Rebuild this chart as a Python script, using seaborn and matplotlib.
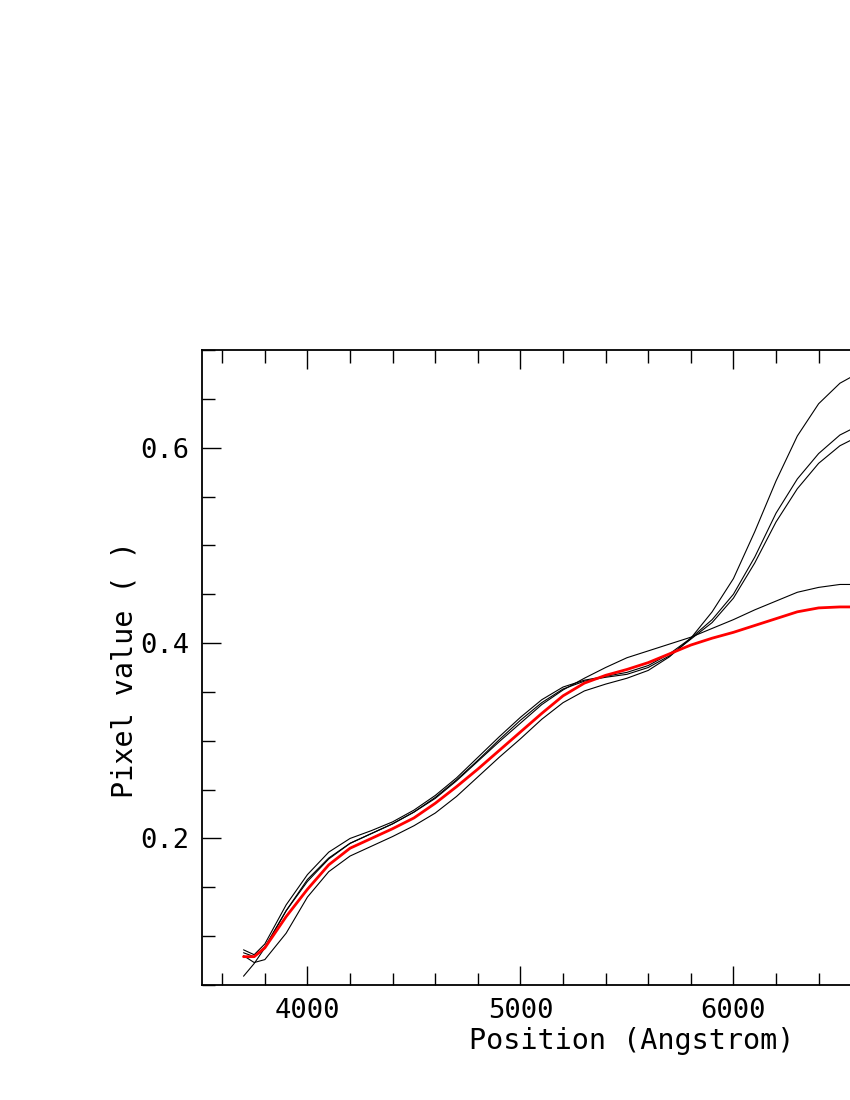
#!/usr/bin/env python3
"""
Curvas de ajuste: Pixel value vs Position (Angstrom)
"""
import pandas as pd
import matplotlib
matplotlib.use("Agg")
import matplotlib.pyplot as plt
from matplotlib.ticker import MultipleLocator
import seaborn as sns

# eje x comun (Angstrom)
wave = [3700, 3750, 3800, 3900, 4000, 4100, 4200, 4300, 4400, 4500, 4600,
        4700, 4800, 4900, 5000, 5100, 5200, 5300, 5400, 5500, 5600, 5700,
        5800, 5900, 6000, 6100, 6200, 6300, 6400, 6500, 6600]

# curvas negras (ajustes individuales)
fit_a = [0.080, 0.073, 0.076, 0.103, 0.140, 0.166, 0.182, 0.192, 0.202, 0.213, 0.226,
         0.243, 0.263, 0.283, 0.302, 0.322, 0.339, 0.351, 0.358, 0.364, 0.372, 0.386,
         0.405, 0.432, 0.466, 0.514, 0.566, 0.612, 0.645, 0.666, 0.678]
fit_b = [0.086, 0.081, 0.092, 0.132, 0.163, 0.186, 0.200, 0.208, 0.217, 0.229, 0.244,
         0.262, 0.283, 0.304, 0.324, 0.342, 0.355, 0.362, 0.366, 0.370, 0.377, 0.389,
         0.405, 0.424, 0.450, 0.488, 0.533, 0.568, 0.594, 0.613, 0.624]
fit_c = [0.083, 0.079, 0.089, 0.126, 0.156, 0.179, 0.195, 0.205, 0.215, 0.227, 0.242,
         0.260, 0.280, 0.301, 0.321, 0.339, 0.353, 0.361, 0.365, 0.368, 0.375, 0.387,
         0.404, 0.421, 0.446, 0.482, 0.524, 0.558, 0.584, 0.602, 0.613]
fit_d = [0.059, 0.072, 0.088, 0.126, 0.158, 0.180, 0.195, 0.205, 0.215, 0.227, 0.241,
         0.259, 0.279, 0.299, 0.318, 0.337, 0.352, 0.364, 0.375, 0.385, 0.392, 0.399,
         0.406, 0.415, 0.424, 0.434, 0.443, 0.452, 0.457, 0.460, 0.460]

# curva roja (media)
mean_fit = [0.079, 0.079, 0.088, 0.120, 0.148, 0.173, 0.190, 0.200, 0.210, 0.221, 0.236,
            0.253, 0.271, 0.290, 0.309, 0.328, 0.346, 0.359, 0.367, 0.373, 0.380, 0.389,
            0.398, 0.405, 0.411, 0.418, 0.425, 0.432, 0.436, 0.437, 0.437]

x_ticks = [4000, 5000, 6000]
y_ticks = [0.2, 0.4, 0.6]

sns.set_style("ticks")
plt.rcParams['font.family'] = ['DejaVu Sans Mono', 'DejaVu Sans']
plt.rcParams['text.color'] = 'black'
plt.rcParams['xtick.color'] = 'black'
plt.rcParams['ytick.color'] = 'black'
plt.rcParams['xtick.labelcolor'] = 'black'
plt.rcParams['ytick.labelcolor'] = 'black'

fig = plt.figure(figsize=(8.5, 11), dpi=100)
px = 0.213  # pixeles por Angstrom
x0, x1 = 3505, 7500
ax = fig.add_axes([202 / 850, 115 / 1100, (x1 - x0) * px / 850, 635 / 1100])

for serie in [fit_a, fit_b, fit_c, fit_d]:
    sns.lineplot(x=wave, y=serie, ax=ax, color='black', linewidth=0.8,
                 sort=False, estimator=None)
sns.lineplot(x=wave, y=mean_fit, ax=ax, color='red', linewidth=2.0,
             sort=False, estimator=None)

ax.set_xlim(x0, x1)
ax.set_ylim(0.05, 0.70)
ax.set_xticks(x_ticks)
ax.set_xticklabels([str(t) for t in x_ticks])
ax.set_yticks(y_ticks)
ax.set_yticklabels([f"{t:.1f}" for t in y_ticks])
ax.xaxis.set_minor_locator(MultipleLocator(200))
ax.yaxis.set_minor_locator(MultipleLocator(0.05))
ax.tick_params(which='both', direction='in', top=True, right=True, color='black', width=1.0)
ax.tick_params(which='major', length=14, labelsize=19.5, pad=9)
ax.tick_params(which='minor', length=9)
ax.tick_params(axis='y', pad=9)
for s in ax.spines.values():
    s.set_linewidth(1.3)
    s.set_color('black')
ax.set_xlabel('')
ax.set_ylabel('')

fig.text(632 / 850, 1 - 1041 / 1100, 'Position (Angstrom)', ha='center', va='center',
         fontsize=20.5, color='black')
fig.text(125 / 850, 1 - 670 / 1100, 'Pixel value ( )', ha='center', va='center',
         rotation=90, fontsize=20.5, color='black')

plt.savefig('out.png', dpi=100)
